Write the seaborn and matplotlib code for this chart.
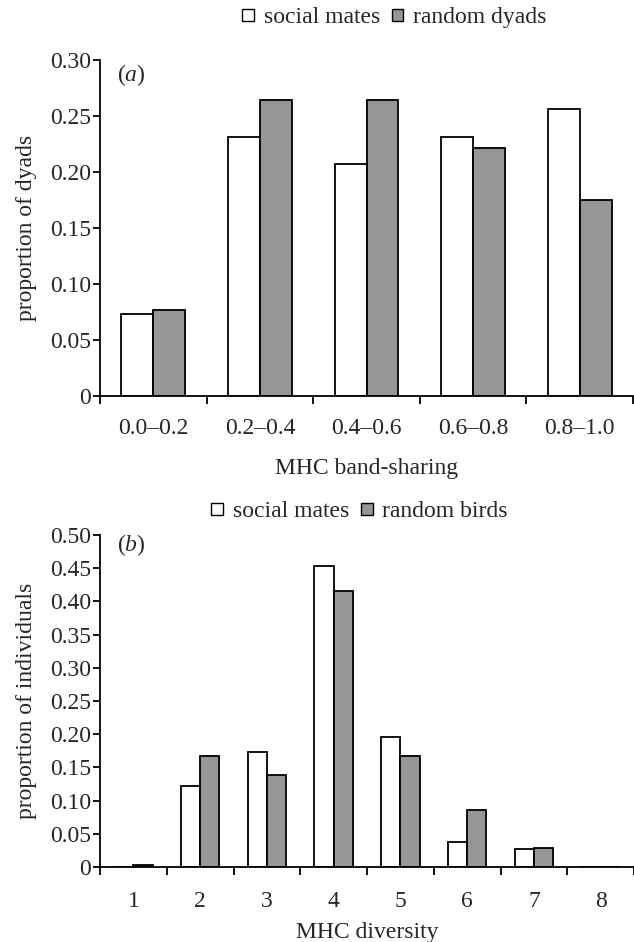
import matplotlib
matplotlib.use("Agg")
import matplotlib.pyplot as plt
import matplotlib.ticker as mticker
import seaborn as sns
import pandas as pd

# ---- data ----
band_cats = ["0.0\u20130.2", "0.2\u20130.4", "0.4\u20130.6", "0.6\u20130.8", "0.8\u20131.0"]
band_social = [0.073, 0.231, 0.207, 0.231, 0.256]
band_random = [0.077, 0.264, 0.264, 0.221, 0.175]

div_cats = ["1", "2", "3", "4", "5", "6", "7", "8"]
div_social = [0.0, 0.122, 0.173, 0.453, 0.196, 0.038, 0.027, 0.0]
div_random = [0.003, 0.167, 0.139, 0.415, 0.167, 0.086, 0.029, 0.0]

a_groups = ["social mates", "random dyads"]
b_groups = ["social mates", "random birds"]

a_yticks = [0, 0.05, 0.10, 0.15, 0.20, 0.25, 0.30]
b_yticks = [0, 0.05, 0.10, 0.15, 0.20, 0.25, 0.30, 0.35, 0.40, 0.45, 0.50]

# ---- style ----
sns.set_style("white")
plt.rcParams["font.family"] = ["Liberation Serif", "DejaVu Serif"]
plt.rcParams["mathtext.fontset"] = "custom"
plt.rcParams["mathtext.rm"] = "Liberation Serif"
plt.rcParams["mathtext.it"] = "Liberation Serif:italic"

FS = 17
GREY = "#969696"

fig = plt.figure(figsize=(6.34, 9.42), dpi=100)
ax_a = fig.add_axes([100 / 634, 1 - 396 / 942, 533 / 634, 336 / 942])
ax_b = fig.add_axes([100 / 634, 1 - 867 / 942, 534 / 634, 332 / 942])

df_a = pd.DataFrame({
    "cat": band_cats * 2,
    "prop": band_social + band_random,
    "group": [a_groups[0]] * len(band_cats) + [a_groups[1]] * len(band_cats),
})
df_b = pd.DataFrame({
    "cat": div_cats * 2,
    "prop": div_social + div_random,
    "group": [b_groups[0]] * len(div_cats) + [b_groups[1]] * len(div_cats),
})


def style_axis(ax, ncat, yticks, ylabel, xlabel, ylabx, xlaby, tag, tagy, xpad):
    ax.set_xlim(-0.5, ncat - 0.5)
    ax.set_ylim(0, yticks[-1])
    for s in ["top", "right"]:
        ax.spines[s].set_visible(False)
    for s in ["left", "bottom"]:
        ax.spines[s].set_color("black")
        ax.spines[s].set_linewidth(1.3)
    ax.set_yticks(yticks)
    ax.yaxis.set_major_formatter(mticker.FuncFormatter(lambda v, p: "0" if v == 0 else f"{v:.2f}"))
    ax.tick_params(axis="y", direction="out", length=5, width=1.3, color="black",
                   labelsize=FS, pad=1.5, left=True)
    ax.set_xticks(range(ncat))
    ax.set_xticks([i - 0.5 for i in range(ncat + 1)], minor=True)
    ax.tick_params(axis="x", which="major", length=0, labelsize=FS, pad=xpad)
    ax.tick_params(axis="x", which="minor", direction="out", length=6, width=1.3,
                   color="black", bottom=True)
    ax.set_ylabel(ylabel, fontsize=FS)
    ax.set_xlabel(xlabel, fontsize=FS)
    ax.yaxis.set_label_coords(ylabx, 0.5)
    ax.xaxis.set_label_coords(0.5, xlaby)
    ax.grid(False)
    ax.text(0.032, tagy, tag, transform=ax.transAxes, fontsize=FS, ha="left", va="center")


sns.barplot(data=df_a, x="cat", y="prop", hue="group", order=band_cats, hue_order=a_groups,
            palette={a_groups[0]: "white", a_groups[1]: GREY}, width=0.6, gap=0,
            edgecolor="black", linewidth=1.3, saturation=1, ax=ax_a, legend=True)
sns.barplot(data=df_b, x="cat", y="prop", hue="group", order=div_cats, hue_order=b_groups,
            palette={b_groups[0]: "white", b_groups[1]: GREY}, width=0.58, gap=0,
            edgecolor="black", linewidth=1.3, saturation=1, ax=ax_b, legend=True)

style_axis(ax_a, len(band_cats), a_yticks, "proportion of dyads", "MHC band-sharing",
           -0.118, -0.184, r"($\mathit{a}$)", 0.955, 16)
style_axis(ax_b, len(div_cats), b_yticks, "proportion of individuals", "MHC diversity",
           -0.118, -0.167, r"($\mathit{b}$)", 0.971, 17)

for ax, anchor, cs in [(ax_a, (0.622, 0.981), 0.5), (ax_b, (0.567, 0.4565), 0.5)]:
    h, l = ax.get_legend_handles_labels()
    ax.get_legend().remove()
    for hh in h:
        hh.set_linewidth(1.0)
    fig.legend(h, l, loc="center", bbox_to_anchor=anchor, ncol=2, frameon=False,
               fontsize=FS, handlelength=0.5, handleheight=0.35, handletextpad=0.4,
               columnspacing=cs, borderpad=0)

fig.savefig("out.png", dpi=100)
